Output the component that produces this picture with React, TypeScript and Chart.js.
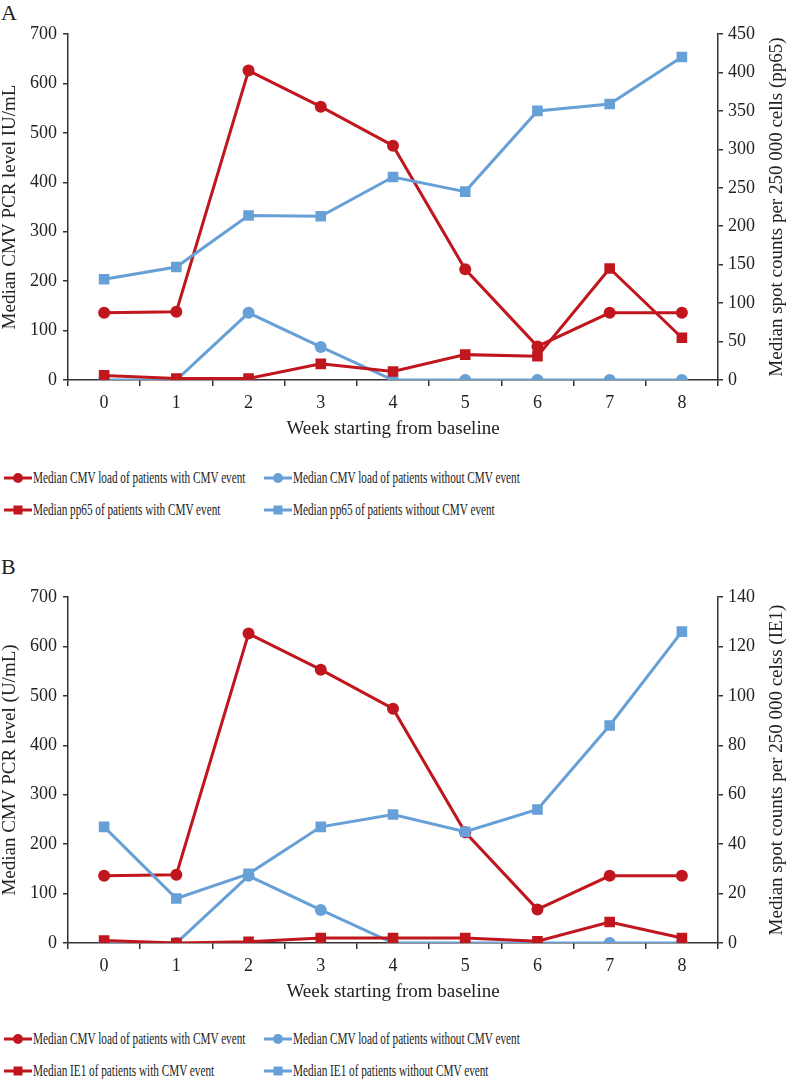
import React, { useEffect, useRef } from 'react';
import { Chart, registerables } from 'chart.js';
Chart.register(...registerables);

const weeks = ['0', '1', '2', '3', '4', '5', '6', '7', '8'];
const cmvLoadWithEvent = [136, 138, 626, 553, 474, 224, 68, 136, 136];
const cmvLoadWithoutEvent = [0, 0, 136, 67, 0, 0, 0, 0, 0];
const pp65WithEvent = [6, 2, 2, 21, 11, 33, 31, 145, 55];
const pp65WithoutEvent = [131, 147, 214, 213, 264, 245, 350, 359, 420];
const ie1WithEvent = [1, 0, 0.5, 2, 2, 2, 0.7, 8.5, 2];
const ie1WithoutEvent = [47, 18, 28, 47, 52, 45, 54, 88, 126];

const RED = '#C0161D';
const BLUE = '#679FD7';
const AXIS = '#333333';
const TEXT = '#222222';
const FONT = "'Liberation Serif', 'Times New Roman', serif";

type PanelProps = {
  top: number;
  leftTitle: string;
  rightTitle: string;
  rightMax: number;
  rightStep: number;
  markerWith: number[];
  markerWithout: number[];
};

function Panel(props: PanelProps) {
  const ref = useRef<HTMLCanvasElement | null>(null);
  useEffect(() => {
    if (!ref.current) return;
    const lineDs = (label: string, data: number[], color: string, style: string, axis: string, order: number) => ({
      label,
      data,
      borderColor: color,
      backgroundColor: color,
      borderWidth: 3,
      pointStyle: style,
      pointRadius: style === 'circle' ? 6 : 7.5,
      pointBorderWidth: 0,
      yAxisID: axis,
      order,
      tension: 0,
    });
    const rightTitlePlugin = {
      id: 'rightTitle',
      afterDraw(chart: any) {
        const { ctx, chartArea } = chart;
        ctx.save();
        ctx.translate(777, (chartArea.top + chartArea.bottom) / 2);
        ctx.rotate(-Math.PI / 2);
        ctx.font = `19px ${FONT}`;
        ctx.fillStyle = TEXT;
        ctx.textAlign = 'center';
        ctx.textBaseline = 'middle';
        ctx.fillText(props.rightTitle, 0, 0);
        ctx.restore();
      },
    };
    const chart = new Chart(ref.current, {
      type: 'line',
      data: {
        labels: weeks,
        datasets: [
          lineDs('with load', cmvLoadWithEvent, RED, 'circle', 'y', 4),
          lineDs('without load', cmvLoadWithoutEvent, BLUE, 'circle', 'y', 3),
          lineDs('with marker', props.markerWith, RED, 'rect', 'y1', 2),
          lineDs('without marker', props.markerWithout, BLUE, 'rect', 'y1', 1),
        ] as any,
      },
      plugins: [rightTitlePlugin],
      options: {
        responsive: false,
        animation: false,
        layout: { padding: { top: 34, left: 0, right: 0, bottom: 0 } },
        plugins: { legend: { display: false }, tooltip: { enabled: false } },
        scales: {
          x: {
            type: 'category',
            offset: true,
            grid: { offset: true, drawOnChartArea: false, tickLength: 6, color: AXIS, lineWidth: 1.5 },
            border: { color: AXIS, width: 1.5 },
            ticks: { font: { family: FONT, size: 18 }, color: TEXT, padding: 6 },
            title: {
              display: true,
              text: 'Week starting from baseline',
              font: { family: FONT, size: 19 },
              color: TEXT,
              padding: { top: 0, bottom: 5 },
            },
            afterFit: (s: any) => { s.height = 65; },
          },
          y: {
            position: 'left',
            min: 0,
            max: 700,
            ticks: { stepSize: 100, font: { family: FONT, size: 18 }, color: TEXT, padding: 6 },
            grid: { drawOnChartArea: false, tickLength: 5, color: AXIS, lineWidth: 1.5 },
            border: { color: AXIS, width: 1.5 },
            title: {
              display: true,
              text: props.leftTitle,
              font: { family: FONT, size: 19, lineHeight: 1.1 },
              color: TEXT,
              padding: { top: 0, bottom: 0 },
            },
            afterFit: (s: any) => { s.width = 68; },
          },
          y1: {
            position: 'right',
            min: 0,
            max: props.rightMax,
            ticks: { stepSize: props.rightStep, font: { family: FONT, size: 18 }, color: TEXT, padding: 5 },
            grid: { drawOnChartArea: false, tickLength: 5, color: AXIS, lineWidth: 1.5 },
            border: { color: AXIS, width: 1.5 },
            afterFit: (s: any) => { s.width = 68; },
          },
        },
      } as any,
    });
    return () => chart.destroy();
  }, []);
  return (
    <canvas
      ref={ref}
      width={786}
      height={445}
      style={{ position: 'absolute', left: 0, top: props.top, width: 786, height: 445 }}
    />
  );
}

function Symbol({ color, shape }: { color: string; shape: 'circle' | 'rect' }) {
  return (
    <svg width={30} height={14} style={{ position: 'absolute', left: 0, top: -7 }}>
      <line x1={1} y1={7} x2={29} y2={7} stroke={color} strokeWidth={3} />
      {shape === 'circle' ? (
        <circle cx={15} cy={7} r={5} fill={color} />
      ) : (
        <rect x={10.5} y={2.5} width={9} height={9} fill={color} />
      )}
    </svg>
  );
}

function LegendItem({ x, y, color, shape, text }: { x: number; y: number; color: string; shape: 'circle' | 'rect'; text: string }) {
  return (
    <div style={{ position: 'absolute', left: x, top: y, height: 0 }}>
      <Symbol color={color} shape={shape} />
      <div
        style={{
          position: 'absolute',
          left: 30,
          top: -11,
          whiteSpace: 'nowrap',
          fontFamily: FONT,
          fontSize: 17,
          lineHeight: '22px',
          color: TEXT,
          transform: 'scaleX(0.66)',
          transformOrigin: 'left center',
        }}
      >
        {text}
      </div>
    </div>
  );
}

function Legend({ top, marker }: { top: number; marker: string }) {
  return (
    <>
      <LegendItem x={3} y={top} color={RED} shape="circle" text="Median CMV load of patients with CMV event" />
      <LegendItem x={263} y={top} color={BLUE} shape="circle" text="Median CMV load of patients without CMV event" />
      <LegendItem x={3} y={top + 32} color={RED} shape="rect" text={`Median ${marker} of patients with CMV event`} />
      <LegendItem x={263} y={top + 32} color={BLUE} shape="rect" text={`Median ${marker} of patients without CMV event`} />
    </>
  );
}

export default function App() {
  return (
    <div style={{ position: 'fixed', left: 0, top: 0, width: 786, height: 1079, background: '#fff', overflow: 'hidden' }}>
      <div style={{ position: 'absolute', left: 1, top: 0, fontFamily: FONT, fontSize: 22, lineHeight: '26px', color: TEXT }}>A</div>
      <Panel
        top={0}
        leftTitle="Median CMV PCR level IU/mL"
        rightTitle="Median spot counts per 250 000 cells (pp65)"
        rightMax={450}
        rightStep={50}
        markerWith={pp65WithEvent}
        markerWithout={pp65WithoutEvent}
      />
      <Legend top={478} marker="pp65" />
      <div style={{ position: 'absolute', left: 1, top: 554, fontFamily: FONT, fontSize: 22, lineHeight: '26px', color: TEXT }}>B</div>
      <Panel
        top={563}
        leftTitle="Median CMV PCR level (U/mL)"
        rightTitle="Median spot counts per 250 000 celss (IE1)"
        rightMax={140}
        rightStep={20}
        markerWith={ie1WithEvent}
        markerWithout={ie1WithoutEvent}
      />
      <Legend top={1039} marker="IE1" />
    </div>
  );
}
